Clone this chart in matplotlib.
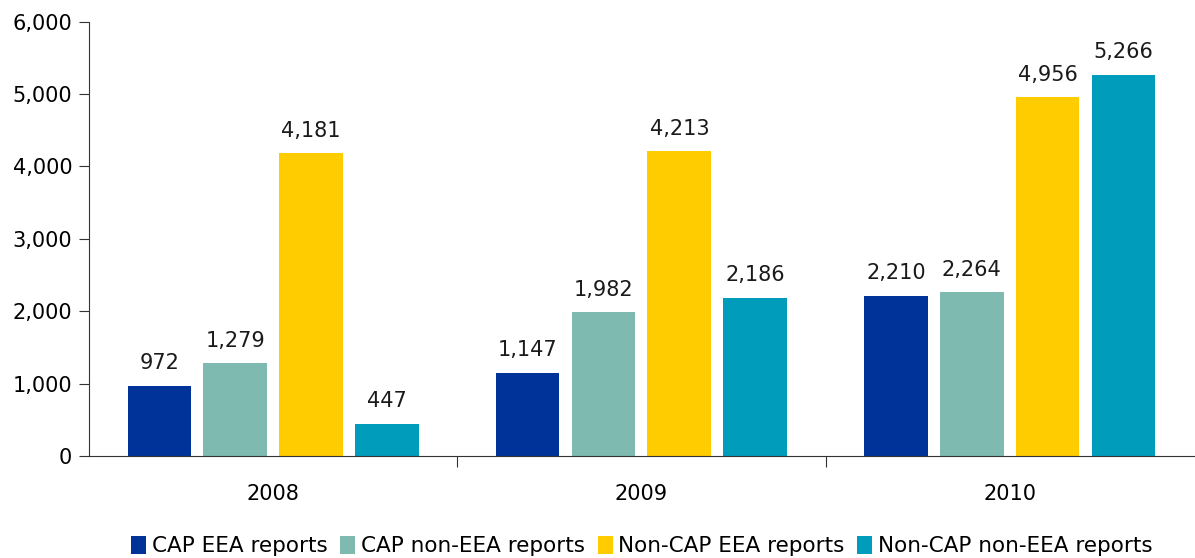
import matplotlib.pyplot as plt
import numpy as np
from matplotlib.ticker import FuncFormatter

years = ["2008", "2009", "2010"]
series = ["CAP EEA reports", "CAP non-EEA reports", "Non-CAP EEA reports", "Non-CAP non-EEA reports"]
values = [
    [972, 1147, 2210],
    [1279, 1982, 2264],
    [4181, 4213, 4956],
    [447, 2186, 5266],
]
colors = ["#003399", "#7fbab0", "#ffcc00", "#009cbc"]

fig = plt.figure(figsize=(11.95, 5.58), dpi=100)
ax = fig.add_axes([0.0745, 0.183, 0.9245, 0.778])

x = np.arange(len(years))
width = 0.173
step = 0.206
for i, (name, vals, c) in enumerate(zip(series, values, colors)):
    pos = x + (i - 1.5) * step
    ax.bar(pos, vals, width, color=c, label=name)
    for p, v in zip(pos, vals):
        ax.annotate(f"{v:,}", (p, v), xytext=(0, 9), textcoords="offset points",
                    ha="center", va="bottom", fontsize=15, color="#1a1a1a")

ax.set_xlim(-0.5, 2.5)
ax.set_ylim(0, 6000)
ax.set_yticks(range(0, 6001, 1000))
ax.yaxis.set_major_formatter(FuncFormatter(lambda v, _: f"{int(v):,}"))
ax.set_xticks([0.5, 1.5])
ax.set_xticklabels([])
ax.set_xticks(x, minor=True)
ax.set_xticklabels(years, minor=True)
ax.tick_params(axis="x", which="minor", length=0, pad=20, labelsize=15)
ax.tick_params(axis="x", which="major", length=8, direction="out", color="#333333")
ax.tick_params(axis="y", length=7, labelsize=15, color="#333333", pad=5)
for s in ["top", "right"]:
    ax.spines[s].set_visible(False)
for s in ["left", "bottom"]:
    ax.spines[s].set_color("#333333")
ax.spines["left"].set_bounds(0, 6000)

fig.legend(loc="lower center", bbox_to_anchor=(0.537, -0.032), ncol=4, frameon=False,
           handlelength=0.7, handleheight=0.9, handletextpad=0.25, columnspacing=0.6,
           prop={"size": 15.5})

fig.savefig("out.png", dpi=100)
